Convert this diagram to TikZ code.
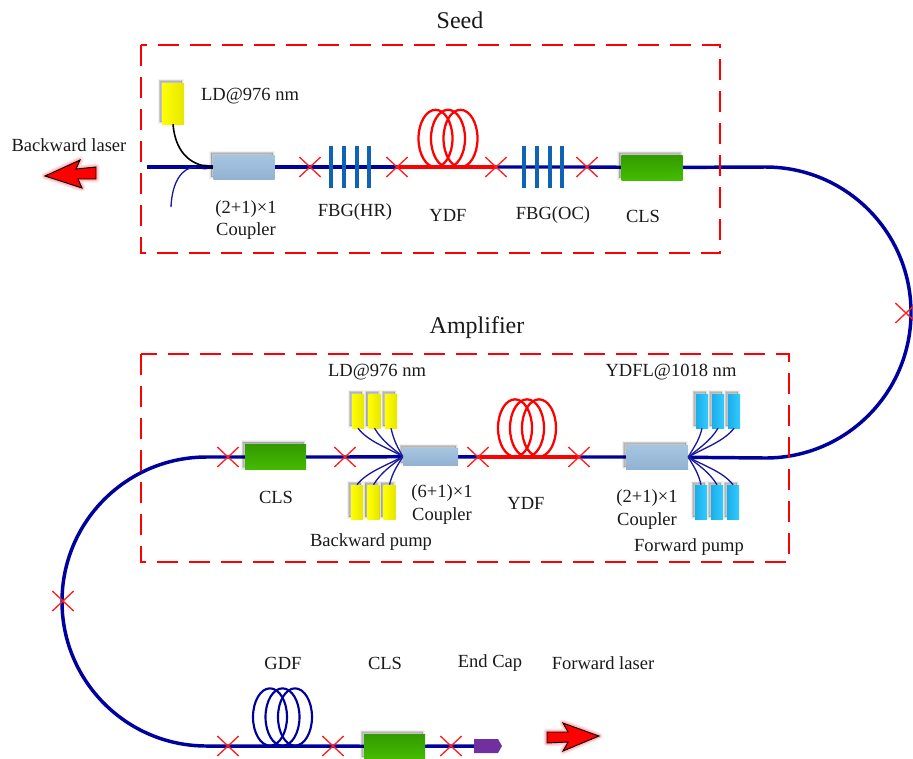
\documentclass[tikz,border=0pt]{standalone}
\usepackage{fontspec}
\setmainfont{Liberation Serif}
\usetikzlibrary{shapes.misc,shapes.geometric}
\pgfdeclarelayer{fibres}
\pgfsetlayers{fibres,main}
\definecolor{fibreblue}{HTML}{00009E}
\definecolor{thinblue}{HTML}{1A1AA0}
\definecolor{splicered}{HTML}{FF2020}
\definecolor{fbgblue}{HTML}{0F63B5}
\definecolor{couplertop}{HTML}{A6C5E1}
\definecolor{couplerbot}{HTML}{92B2D2}
\definecolor{clstop}{HTML}{339A00}
\definecolor{clsbot}{HTML}{44BC00}
\definecolor{yellowdark}{HTML}{E6E600}
\definecolor{cyanleft}{HTML}{1AAEEA}
\definecolor{cyanright}{HTML}{33CCFF}
\definecolor{capviolet}{HTML}{7030A0}
\tikzset{
  softshadow/.style={
    preaction={draw=black,draw opacity=.05,line width=3.2pt,fill=black,fill opacity=.05,transform canvas={shift={(-1.6pt,1.6pt)}}},
    preaction={draw=black,draw opacity=.07,line width=1.8pt,fill=black,fill opacity=.07,transform canvas={shift={(-1.6pt,1.6pt)}}},
    preaction={draw=black,draw opacity=.09,line width=.6pt,fill=black,fill opacity=.09,transform canvas={shift={(-1.6pt,1.6pt)}}}},
  frame/.style={draw=red,line width=1.9pt,dash pattern=on 16pt off 8pt},
  fibre/.style={draw=fibreblue,line width=2.6pt},
  gainfibre/.style={draw=red,line width=2.8pt},
  pigtail/.style={draw=thinblue,line width=1pt},
  splice/.style={cross out,draw=splicered,line width=1pt,minimum width=15pt,minimum height=14pt,inner sep=0pt},
  coupler/.style={softshadow,rectangle,inner sep=0pt,top color=couplertop,bottom color=couplerbot},
  clsbox/.style={softshadow,rectangle,inner sep=0pt,minimum width=45.75pt,minimum height=18.75pt,top color=clstop,bottom color=clsbot},
  ldyellow/.style={softshadow,rectangle,inner sep=0pt,left color=yellow,right color=yellowdark},
  ldcyan/.style={softshadow,rectangle,inner sep=0pt,left color=cyanleft,right color=cyanright},
  pumpsize/.style={minimum width=9pt,minimum height=25.5pt},
  fbgline/.style={rectangle,inner sep=0pt,fill=fbgblue,minimum width=2.8pt,minimum height=31.5pt},
  coilred/.style={ellipse,draw=red,line width=1.7pt,inner sep=0pt,minimum width=25.5pt,minimum height=43pt},
  coilblue/.style={ellipse,draw=fibreblue,line width=1.6pt,inner sep=0pt,minimum width=25.5pt,minimum height=43pt},
  lab/.style={inner sep=0pt,font=\fontsize{13.9pt}{16pt}\selectfont,text=black!90},
  title/.style={inner sep=0pt,font=\fontsize{18pt}{20pt}\selectfont,text=black!90},
  beam/.style={draw=black,line width=.7pt,fill=red,
    preaction={draw=red,draw opacity=.12,line width=5pt,line join=round},
    preaction={draw=red,draw opacity=.15,line width=3pt,line join=round}},
}
\begin{document}
\begin{tikzpicture}[x=0.75pt,y=-0.75pt]
\useasboundingbox (0,0) rectangle (913,758);
% frames
\draw[frame] (141,45) rectangle (720,253);
\draw[frame] (141,354) rectangle (789,562);
% seed components
\node[ldyellow,minimum width=16.5pt,minimum height=30.75pt] (ldS) at (173,103.5) {};
\node[coupler,minimum width=46pt,minimum height=18pt] (cpS) at (244,167) {};
\node[splice] (s1) at (310,167) {};
\foreach \n/\x in {a/331,b/344,c/357,d/369}{\node[fbgline] (fh\n) at (\x,167) {};}
\node[splice] (s2) at (397,167) {};
\node[coilred] (y1a) at (435.5,138.5) {};
\node[coilred] (y1b) at (448,138.5) {};
\node[coilred] (y1c) at (460.5,138.5) {};
\node[splice] (s3) at (496,167) {};
\foreach \n/\x in {a/524,b/537,c/550,d/562}{\node[fbgline] (fo\n) at (\x,167) {};}
\node[splice] (s4) at (587,167) {};
\node[clsbox] (clsS) at (652,167.5) {};
\coordinate (inS) at (147,167);
\coordinate (tailS) at (171,207);
\coordinate (merge) at (213,167);
\coordinate (arcA) at (765.5,167);
\coordinate (arcB) at (911,312.5);
\coordinate (arcC) at (765.5,458);
\node[splice] (s5) at (906,313) {};
% amplifier components
\node[coupler,minimum width=46.5pt,minimum height=18pt] (cpF) at (657,457) {};
\foreach \n/\x in {a/702,b/718,c/734}{\node[ldcyan,pumpsize] (ct\n) at (\x,411) {};}
\foreach \n/\x in {a/701,b/717,c/733}{\node[ldcyan,pumpsize] (cb\n) at (\x,502) {};}
\node[splice] (s6) at (579,457) {};
\node[coilred] (y2a) at (515,428) {};
\node[coilred] (y2b) at (527,428) {};
\node[coilred] (y2c) at (539,428) {};
\node[splice] (s7) at (478,457) {};
\node[coupler,minimum width=41.25pt,minimum height=12.75pt] (cpB) at (430.5,456.5) {};
\foreach \n/\x in {a/358,b/374.5,c/391}{\node[ldyellow,pumpsize] (yt\n) at (\x,411) {};}
\foreach \n/\x in {a/357,b/373.5,c/389.5}{\node[ldyellow,pumpsize] (yb\n) at (\x,502) {};}
\node[splice] (s8) at (345,457) {};
\node[clsbox] (clsA) at (275.5,457) {};
\node[splice] (s9) at (228,457) {};
\coordinate (arcD) at (206.5,457);
\coordinate (arcE) at (62,601.5);
\coordinate (arcF) at (206.5,746);
\node[splice] (s10) at (63,601) {};
% output section
\node[splice] (s11) at (228,746) {};
\node[coilblue] (g1) at (270,717) {};
\node[coilblue] (g2) at (282.5,717) {};
\node[coilblue] (g3) at (295,717) {};
\node[splice] (s12) at (333,746) {};
\node[clsbox] (clsO) at (394.5,746.5) {};
\node[splice] (s13) at (451,746) {};
\coordinate (capIn) at (476,746);
\fill[fill=capviolet] (474,739) -- (498,739) -- (502,746) -- (498,753) -- (474,753) -- cycle;
% beams
\draw[beam] (45,176) -- (80,160) -- (76,169) -- (96,167) -- (96,179) -- (78,179) -- (82,188) -- cycle;
\draw[beam] (547,732) -- (568,732) -- (563,723) -- (599,736) -- (563,751) -- (568,742) -- (547,743) -- cycle;
% fibres
\begin{pgfonlayer}{fibres}
\draw[fibre] (inS) -- (cpS.center) -- (s1.center) -- (s2.center);
\draw[gainfibre] (s2.center) -- (s3.center);
\draw[fibre] (s3.center) -- (s4.center) -- (clsS.center) -- (arcA)
  .. controls (845.9,167) and (911,232.1) .. (arcB)
  .. controls (911,392.9) and (845.9,458) .. (arcC) -- (cpF.center) -- (s6.center);
\draw[gainfibre] (s6.center) -- (s7.center);
\draw[fibre] (s7.center) -- (cpB.center) -- (s8.center) -- (clsA.center) -- (s9.center) -- (arcD)
  .. controls (126.7,457) and (62,521.7) .. (arcE)
  .. controls (62,681.3) and (126.7,746) .. (arcF) -- (s11.center) -- (s12.center) -- (clsO.center) -- (s13.center) -- (capIn);
\end{pgfonlayer}
\fill[fibreblue] (merge) .. controls +(-6,-3.5) and +(6,-3) .. (196,167) .. controls +(6,3) and +(-6,3.5) .. (merge);
\draw[draw=black,line width=1.2pt] (ldS.south) .. controls +(2,24) and +(-26,-1) .. (merge);
\draw[pigtail] (tailS) .. controls +(1,-25) and +(-14,0) .. (196,167);
\foreach \n/\sx/\ex in {a/10/16,b/8/11,c/3/5}{
  \draw[pigtail] (yt\n.south) .. controls +(\sx,13) and +(-\ex,-9) .. (cpB.west);
  \draw[pigtail] (yb\n.north) .. controls +(\sx,-13) and +(-\ex,9) .. (cpB.west);
}
\foreach \n/\sx/\ex in {a/3/5,b/8/11,c/10/16}{
  \draw[pigtail] (ct\n.south) .. controls +(-\sx,13) and +(\ex,-9) .. (cpF.east);
  \draw[pigtail] (cb\n.north) .. controls +(-\sx,-13) and +(\ex,9) .. (cpF.east);
}
% labels
\node[title] (tSeed) at (460,20) {Seed};
\node[title] (tAmp) at (477,328) {Amplifier};
\node[lab] (l1) at (250,96) {LD@976 nm};
\node[lab] (l2) at (69,145) {Backward laser};
\node[lab] (l3) at (246,209) {(2+1)×1};
\node[lab] (l4) at (246,231) {Coupler};
\node[lab] (l5) at (355,212) {FBG(HR)};
\node[lab] (l6) at (448,215) {YDF};
\node[lab] (l7) at (553,215) {FBG(OC)};
\node[lab] (l8) at (643,216) {CLS};
\node[lab] (l9) at (377,372) {LD@976 nm};
\node[lab] (l10) at (671,372) {YDFL@1018 nm};
\node[lab] (l11) at (276,497) {CLS};
\node[lab] (l12) at (442,493) {(6+1)×1};
\node[lab] (l13) at (442,516) {Coupler};
\node[lab] (l14) at (526,503) {YDF};
\node[lab] (l15) at (647,498) {(2+1)×1};
\node[lab] (l16) at (647,521) {Coupler};
\node[lab] (l17) at (371,542) {Backward pump};
\node[lab] (l18) at (689,547) {Forward pump};
\node[lab] (l19) at (283,663) {GDF};
\node[lab] (l20) at (385,663) {CLS};
\node[lab] (l21) at (490,663) {End Cap};
\node[lab] (l22) at (603,663) {Forward laser};
\end{tikzpicture}
\end{document}
